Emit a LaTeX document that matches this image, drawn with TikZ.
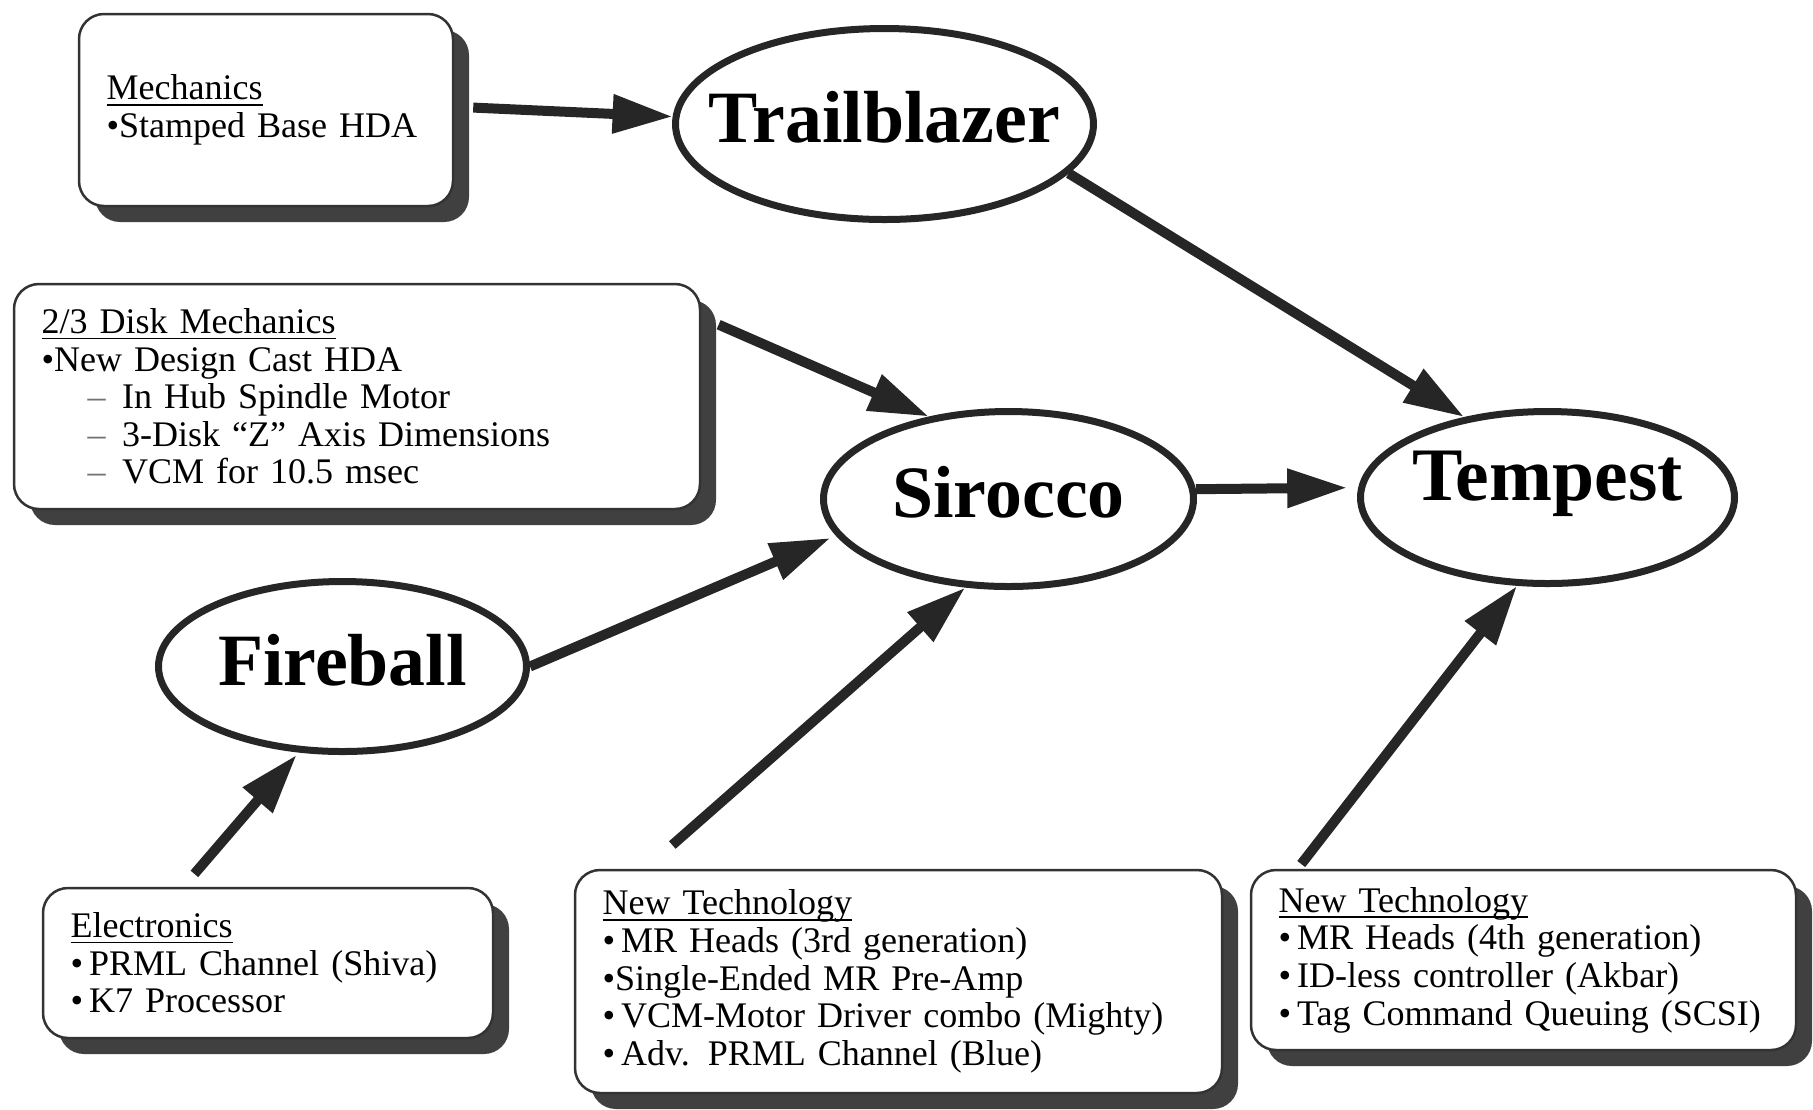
\documentclass[tikz,border=0pt]{standalone}
\usepackage{fontspec}
\setmainfont{Liberation Serif}
\usetikzlibrary{arrows.meta,shapes.geometric,shadows}
\newcommand{\topic}[1]{\underline{\raisebox{0pt}[\height][0pt]{#1}}}

\begin{document}
\begin{tikzpicture}[x=0.1mm, y=-0.1mm, >={Triangle[length=6mm,width=3.7mm]}, semithick]
  \tikzstyle{plan}=[draw=black!85, line width=0.7mm, ellipse, inner sep=0pt,
    text height=3.7mm, text depth=0pt, font=\fontsize{21}{21}\selectfont\bfseries]
  \tikzstyle{note}=[draw=black!80, line width=0.25mm, rounded corners=2.5mm, fill=white,
    inner xsep=2.75mm, inner ysep=0pt, align=left, font=\fontsize{10.25}{10.7}\selectfont,
    drop shadow={shadow xshift=1.6mm, shadow yshift=-1.6mm, fill=black!75, opacity=1}]
  \tikzstyle{feed}=[->, color=black!85, line width=1mm]
  \useasboundingbox (0,0) rectangle (1813,1109);

  % product ellipses
  \node[plan, minimum width=41.8mm, minimum height=19.1mm] (trail) at (884.5,124) {\makebox[0pt]{Trailblazer}};
  \node[plan, minimum width=37mm, minimum height=17.5mm] (siro) at (1008.5,499) {\makebox[0pt]{Sirocco}};
  \node[plan, minimum width=37.4mm, minimum height=17.2mm, text height=0.5mm,
    font=\fontsize{21.5}{21.5}\selectfont\bfseries] (temp) at (1547.5,497.5) {\makebox[0pt]{Tempest}};
  \node[plan, minimum width=36.8mm, minimum height=17mm] (fire) at (342.5,666.5) {\makebox[0pt]{Fireball}};

  % feature boxes
  \node[note, text width=31.9mm, minimum height=19.2mm] (mech) at (266,110)
    {\topic{Mechanics}\\ •Stamped Base HDA};
  \node[note, text width=63.1mm, minimum height=22.5mm] (disk) at (357,396.5)
    {\topic{2/3 Disk Mechanics}\\ •New Design Cast HDA\\
     \hspace*{4.6mm}\textcolor{black!55}{–}\hspace{1.65mm}In Hub Spindle Motor\\
     \hspace*{4.6mm}\textcolor{black!55}{–}\hspace{1.65mm}3-Disk “Z” Axis Dimensions\\
     \hspace*{4.6mm}\textcolor{black!55}{–}\hspace{1.65mm}VCM for 10.5 msec};
  \node[note, text width=39.5mm, minimum height=15mm] (elec) at (268,963)
    {\topic{Electronics}\\ •\,PRML Channel (Shiva)\\ •\,K7 Processor};
  \node[note, text width=59.2mm, minimum height=22.3mm] (nt1) at (898.5,981.5)
    {\topic{New Technology}\\ •\,MR Heads (3rd generation)\\ •Single-Ended MR Pre-Amp\\
     •\,VCM-Motor Driver combo (Mighty)\\ •\,Adv. PRML Channel (Blue)};
  \node[note, text width=49mm, minimum height=18mm] (nt2) at (1523.5,960)
    {\topic{New Technology}\\ •\,MR Heads (4th generation)\\ •\,ID-less controller (Akbar)\\
     •\,Tag Command Queuing (SCSI)};

  \path[feed]
    (mech.1) edge[shorten <=1.9mm] (trail.178)
    (trail.-15) edge (temp.136)
    (disk.13) edge[shorten <=1.9mm] (siro.134)
    (siro.3) edge[shorten >=1.1mm] (temp.177)
    (fire.east) edge[shorten >=0.6mm] (siro.192)
    (elec.138) edge[shorten <=1.7mm, shorten >=0.3mm] (fire.243)
    (nt1.156) edge[shorten <=3.6mm] (siro.244)
    (nt2.158) edge[shorten <=0.6mm] (temp.251);
\end{tikzpicture}
\end{document}
